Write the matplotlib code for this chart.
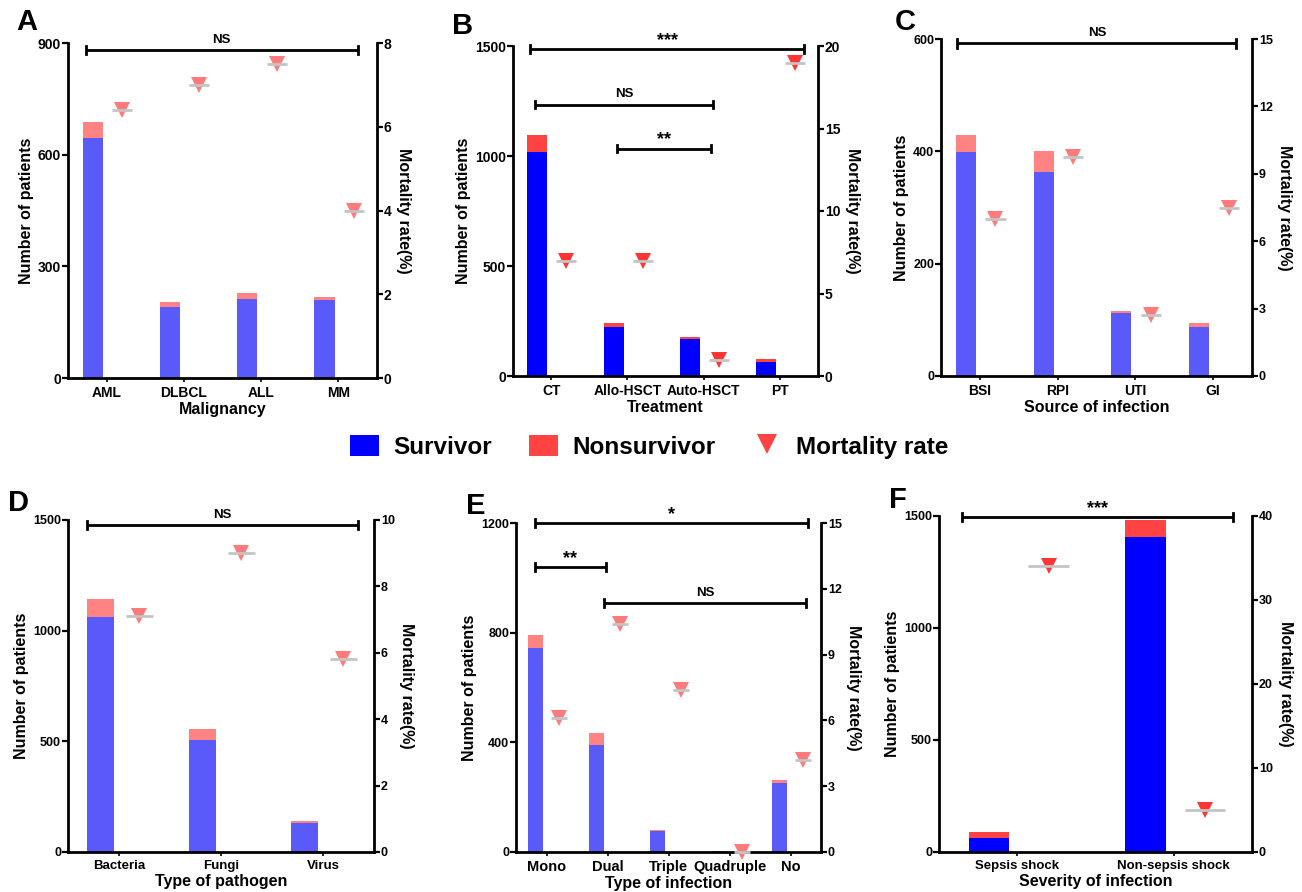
import matplotlib
matplotlib.use("Agg")
import matplotlib.pyplot as plt
from matplotlib.patches import Patch
from matplotlib.lines import Line2D

plt.rcParams['font.family'] = ['Liberation Sans', 'DejaVu Sans']
plt.rcParams['font.weight'] = 'bold'

# ---------------- data ----------------
A_cats = ['AML', 'DLBCL', 'ALL', 'MM']
A_surv = [644, 191, 212, 209]
A_nonsurv = [43, 14, 17, 9]
A_mort = [6.4, 7.0, 7.5, 4.0]

B_cats = ['CT', 'Allo-HSCT', 'Auto-HSCT', 'PT']
B_surv = [1018, 223, 168, 64]
B_nonsurv = [79, 18, 7, 12]
B_mort = [7.0, 7.0, 1.0, 19.0]

C_cats = ['BSI', 'RPI', 'UTI', 'GI']
C_surv = [399, 363, 112, 88]
C_nonsurv = [30, 38, 3, 6]
C_mort = [7.0, 9.75, 2.7, 7.5]

D_cats = ['Bacteria', 'Fungi', 'Virus']
D_surv = [1061, 506, 133]
D_nonsurv = [80, 50, 6]
D_mort = [7.1, 9.0, 5.8]

E_cats = ['Mono', 'Dual', 'Triple', 'Quadruple', 'No']
E_surv = [744, 389, 77, 5, 253]
E_nonsurv = [49, 45, 5, 0, 10]
E_mort = [6.1, 10.4, 7.4, 0.0, 4.2]

F_cats = ['Sepsis shock', 'Non-sepsis shock']
F_surv = [61, 1405]
F_nonsurv = [30, 79]
F_mort = [34.0, 5.0]

# significance brackets: (x_start, x_end, y_left_axis, label)
A_sig = [(-0.27, 3.25, 880, 'NS')]
B_sig = [(-0.28, 3.32, 1485, '***'), (-0.21, 2.12, 1234, 'NS'), (0.87, 2.10, 1034, '**')]
C_sig = [(-0.29, 3.30, 592, 'NS')]
D_sig = [(-0.31, 2.34, 1476, 'NS')]
E_sig = [(-0.19, 4.29, 1200, '*'), (-0.19, 0.97, 1038, '**'), (0.95, 4.25, 908, 'NS')]
F_sig = [(-0.35, 1.38, 1495, '***')]

LIGHT = dict(surv='#5A5AFA', non='#FF8383', tri='#FF7A7A')
DARK = dict(surv='#0000FF', non='#FF4343', tri='#FF3535')

W, H = 1302, 892
fig = plt.figure(figsize=(W / 100, H / 100), dpi=100)


def rect(l, r, t, b):
    return [l / W, 1 - b / H, (r - l) / W, (b - t) / H]


def panel(box, letter, letter_xy, cats, surv, non, mort, ylim, yticks, rlim, rticks,
          xlabel, sig, col, tfs=10, xfs=10):
    ax = fig.add_axes(rect(*box))
    n = len(cats)
    x = list(range(n))
    bx = [i - 0.18 for i in x]
    tx = [i + 0.2 for i in x]
    ax.bar(bx, surv, width=0.26, color=col['surv'], edgecolor='none', zorder=2)
    ax.bar(bx, non, bottom=surv, width=0.26, color=col['non'], edgecolor='none', zorder=2)
    ax.set_xlim(-0.5, n - 0.5)
    ax.set_ylim(*ylim)
    ax.set_yticks(yticks)
    ax.set_xticks(x)
    ax.set_xticklabels(cats, fontsize=xfs, fontweight='bold')
    ax.tick_params(axis='y', labelsize=tfs, width=1.6, length=4, pad=1)
    ax.tick_params(axis='x', width=1.2, length=3, pad=3)
    for lab in ax.get_yticklabels():
        lab.set_fontweight('bold')
    for s in ['top', 'right']:
        ax.spines[s].set_visible(False)
    for s in ['left', 'bottom']:
        ax.spines[s].set_linewidth(2)
    ax.set_ylabel('Number of patients', fontsize=11.5, fontweight='bold', labelpad=3)
    ax.set_xlabel(xlabel, fontsize=11.5, fontweight='bold', labelpad=1)

    ax2 = ax.twinx()
    ax2.set_ylim(*rlim)
    ax2.set_yticks(rticks)
    ax2.tick_params(axis='y', labelsize=tfs, width=1.6, length=4, pad=1)
    for lab in ax2.get_yticklabels():
        lab.set_fontweight('bold')
    for s in ['top', 'left', 'bottom']:
        ax2.spines[s].set_visible(False)
    ax2.spines['right'].set_linewidth(2)
    ax2.plot(tx, mort, linestyle='none', marker='v', markersize=11,
             color=col['tri'], markeredgewidth=0, zorder=3, clip_on=False)
    ax2.hlines(mort, [t - 0.13 for t in tx], [t + 0.13 for t in tx],
               color='#C4C4C4', linewidth=2, zorder=4, clip_on=False)
    ax2.set_ylabel('Mortality rate(%)', fontsize=11.5, fontweight='bold',
                   rotation=270, labelpad=14)

    for x0, x1, y, lab in sig:
        ax.plot([x0, x1], [y, y], color='black', lw=2, clip_on=False, zorder=5,
                solid_capstyle='butt')
        dy = (ylim[1] - ylim[0]) * 0.012
        for xe in (x0, x1):
            ax.plot([xe, xe], [y - dy, y + dy], color='black', lw=2, clip_on=False, zorder=5)
        fs = 9.5 if lab == 'NS' else 13
        off = 3 if lab == 'NS' else 0
        ax.annotate(lab, ((x0 + x1) / 2, y), xytext=(0, off), textcoords='offset points',
                    ha='center', va='bottom', fontsize=fs, fontweight='bold',
                    annotation_clip=False)

    fig.text(letter_xy[0] / W, 1 - letter_xy[1] / H, letter, fontsize=21,
             fontweight='bold', ha='center', va='center')
    return ax


panel((68, 377, 43, 378), 'A', (27, 22), A_cats, A_surv, A_nonsurv, A_mort,
      (0, 900), [0, 300, 600, 900], (0, 8), [0, 2, 4, 6, 8], 'Malignancy', A_sig, LIGHT)
panel((513, 818, 46, 376), 'B', (463, 26), B_cats, B_surv, B_nonsurv, B_mort,
      (0, 1500), [0, 500, 1000, 1500], (0, 20), [0, 5, 10, 15, 20], 'Treatment', B_sig, DARK)
panel((941, 1252, 39, 376), 'C', (905, 22), C_cats, C_surv, C_nonsurv, C_mort,
      (0, 600), [0, 200, 400, 600], (0, 15), [0, 3, 6, 9, 12, 15], 'Source of infection',
      C_sig, LIGHT, tfs=9)
panel((68, 374, 520, 852), 'D', (19, 503), D_cats, D_surv, D_nonsurv, D_mort,
      (0, 1500), [0, 500, 1000, 1500], (0, 10), [0, 2, 4, 6, 8, 10], 'Type of pathogen',
      D_sig, LIGHT, tfs=9, xfs=9.5)
panel((516, 821, 523, 852), 'E', (476, 506), E_cats, E_surv, E_nonsurv, E_mort,
      (0, 1200), [0, 400, 800, 1200], (0, 15), [0, 3, 6, 9, 12, 15], 'Type of infection',
      E_sig, LIGHT, tfs=9, xfs=10.5)
panel((939, 1252, 516, 852), 'F', (898, 500), F_cats, F_surv, F_nonsurv, F_mort,
      (0, 1500), [0, 500, 1000, 1500], (0, 40), [0, 10, 20, 30, 40], 'Severity of infection',
      F_sig, DARK, tfs=9, xfs=9.5)

handles = [Patch(facecolor='#0000FF', edgecolor='none', label='Survivor'),
           Patch(facecolor='#FF4343', edgecolor='none', label='Nonsurvivor'),
           Line2D([], [], linestyle='none', marker='v', markersize=15,
                  color='#FF4343', markeredgewidth=0, label='Mortality rate')]
fig.legend(handles=handles, loc='center', bbox_to_anchor=(649 / W, 1 - 447 / H), ncol=3,
           frameon=False, prop={'size': 17.5, 'weight': 'bold'}, handlelength=1.2,
           handleheight=0.95, columnspacing=1.5, handletextpad=0.6)

fig.savefig('out.png', dpi=100)
